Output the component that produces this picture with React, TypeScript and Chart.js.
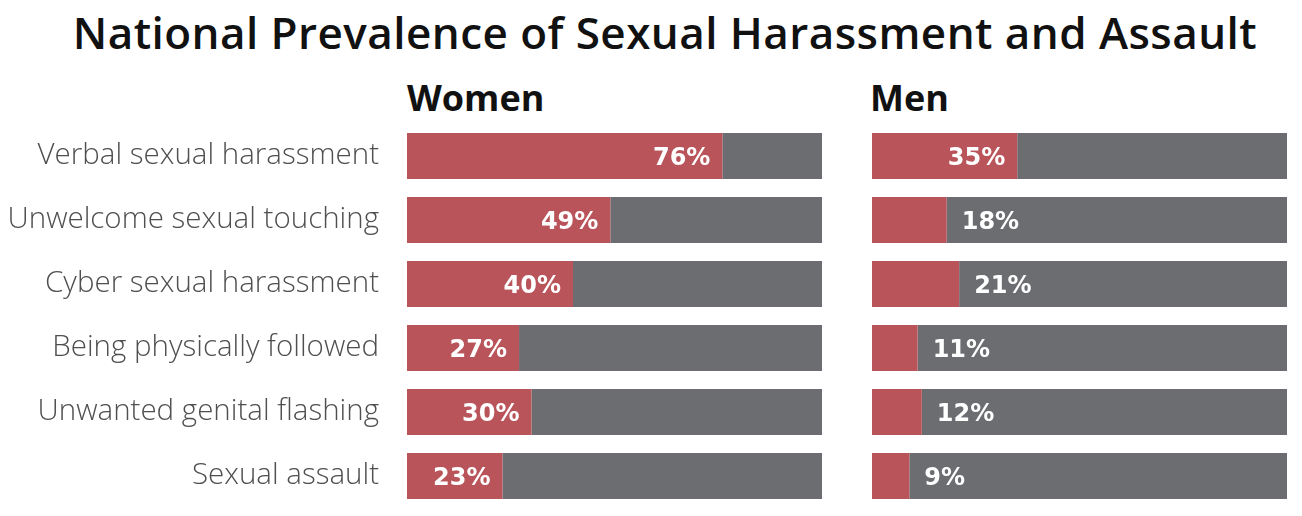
import React, { useEffect, useRef } from "react";
import { Chart, registerables } from "chart.js";

Chart.register(...registerables);

const TITLE = "National Prevalence of Sexual Harassment and Assault";
const WOMEN_HEADING = "Women";
const MEN_HEADING = "Men";
const CATEGORIES = [
  "Verbal sexual harassment",
  "Unwelcome sexual touching",
  "Cyber sexual harassment",
  "Being physically followed",
  "Unwanted genital flashing",
  "Sexual assault",
];
const WOMEN_VALUES = [76, 49, 40, 27, 30, 23];
const MEN_VALUES = [35, 18, 21, 11, 12, 9];

const RED = "#B9545B";
const GREY = "#6C6D71";
const INSIDE_THRESHOLD = 22;

const valueLabelPlugin = {
  id: "valueLabels",
  afterDatasetsDraw(chart: any) {
    const ctx = chart.ctx;
    const meta = chart.getDatasetMeta(0);
    const values = chart.data.datasets[0].data as number[];
    ctx.save();
    ctx.font = "bold 24px 'DejaVu Sans', sans-serif";
    ctx.fillStyle = "#ffffff";
    ctx.textBaseline = "alphabetic";
    meta.data.forEach((bar: any, i: number) => {
      const v = values[i];
      const text = v + "%";
      const y = bar.y + 8.5;
      if (v >= INSIDE_THRESHOLD) {
        ctx.textAlign = "right";
        ctx.fillText(text, bar.x - 12, y);
      } else {
        ctx.textAlign = "left";
        ctx.fillText(text, bar.x + 15, y);
      }
    });
    ctx.restore();
  },
};

function makeConfig(values: number[], showLabels: boolean, padding: any) {
  return {
    type: "bar" as const,
    data: {
      labels: CATEGORIES,
      datasets: [
        {
          data: values,
          backgroundColor: RED,
          barPercentage: 0.72,
          categoryPercentage: 1,
        },
        {
          data: values.map((v) => 100 - v),
          backgroundColor: GREY,
          barPercentage: 0.72,
          categoryPercentage: 1,
        },
      ],
    },
    options: {
      indexAxis: "y" as const,
      responsive: false,
      animation: false as const,
      devicePixelRatio: 1,
      layout: { padding },
      plugins: {
        legend: { display: false },
        tooltip: { enabled: false },
        title: { display: false },
      },
      scales: {
        x: {
          stacked: true,
          min: 0,
          max: 100,
          display: false,
        },
        y: {
          stacked: true,
          display: showLabels,
          grid: { display: false, drawTicks: false },
          border: { display: false },
          ticks: {
            padding: 28,
            color: "#4f4f51",
            font: { family: "'Open Sans', sans-serif", size: 29.5, weight: "300" },
          },
          afterFit: (scale: any) => {
            if (showLabels) {
              scale.width = 407;
              scale.paddingTop = 0;
              scale.paddingBottom = 0;
            }
          },
        },
      },
    },
    plugins: [valueLabelPlugin],
  };
}

const headingStyle: React.CSSProperties = {
  position: "absolute",
  top: 80,
  fontFamily: "'Open Sans', sans-serif",
  fontWeight: 700,
  fontSize: 36,
  lineHeight: 1,
  color: "#111",
  whiteSpace: "nowrap",
};

export default function App() {
  const womenRef = useRef<HTMLCanvasElement>(null);
  const menRef = useRef<HTMLCanvasElement>(null);

  useEffect(() => {
    document.body.style.margin = "0";
    const w = new Chart(
      womenRef.current!,
      makeConfig(WOMEN_VALUES, true, { top: 124, bottom: 8, left: 0, right: 8 }) as any
    );
    const m = new Chart(
      menRef.current!,
      makeConfig(MEN_VALUES, false, { top: 124, bottom: 8, left: 42, right: 15 }) as any
    );
    return () => {
      w.destroy();
      m.destroy();
    };
  }, []);

  return (
    <div style={{ position: "relative", width: 1302, height: 516, background: "#fff", overflow: "hidden" }}>
      <div
        style={{
          position: "absolute",
          left: 0,
          width: 1330,
          top: 10,
          textAlign: "center",
          fontFamily: "'Open Sans', sans-serif",
          fontWeight: 600,
          fontSize: 44,
          lineHeight: 1,
          color: "#111",
          letterSpacing: 0.45,
          whiteSpace: "nowrap",
        }}
      >
        {TITLE}
      </div>
      <div style={{ ...headingStyle, left: 407 }}>{WOMEN_HEADING}</div>
      <div style={{ ...headingStyle, left: 870 }}>{MEN_HEADING}</div>
      <canvas
        ref={womenRef}
        width={830}
        height={516}
        style={{ position: "absolute", left: 0, top: 0, width: 830, height: 516 }}
      />
      <canvas
        ref={menRef}
        width={472}
        height={516}
        style={{ position: "absolute", left: 830, top: 0, width: 472, height: 516 }}
      />
    </div>
  );
}
